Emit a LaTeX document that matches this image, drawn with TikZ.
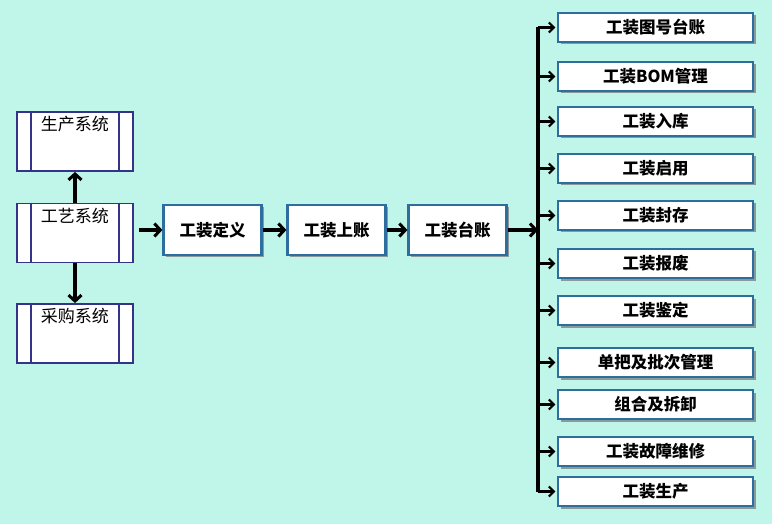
\documentclass[tikz,border=0pt]{standalone}
\usepackage{fontspec}
\newfontfamily\cjk{Noto Sans CJK SC}
\usetikzlibrary{arrows.meta,shadows,calc}
\definecolor{bg}{HTML}{C0F5EA}
\definecolor{boxblue}{HTML}{2E6E9E}
\definecolor{sysnavy}{HTML}{33338A}
\definecolor{shadowgray}{HTML}{8A9A9A}
\tikzset{
  procbox/.style={draw=boxblue, line width=2.2pt, fill=white, minimum height=29pt,
    font=\cjk\bfseries\fontsize{16.5}{18}\selectfont, inner sep=0pt,
    drop shadow={shadow xshift=2.5pt, shadow yshift=-2.5pt, fill=shadowgray, opacity=1}},
  rbox/.style={procbox, minimum width=195pt},
  mbox/.style={procbox, minimum width=98pt, minimum height=50pt},
  sysbox/.style={draw=sysnavy, line width=1.8pt, fill=white, minimum width=116pt, minimum height=59pt, inner sep=0pt},
  systext/.style={font=\cjk\fontsize{17}{18}\selectfont, inner sep=0pt, anchor=north},
  mainarrow/.style={line width=3.2pt, -{Straight Barb[length=6pt,width=13pt,line width=3pt]}},
  brarrow/.style={line width=2.3pt, -{Straight Barb[length=5pt,width=10pt,line width=2.2pt]}},
  busline/.style={line width=3.2pt}
}
\begin{document}
\begin{tikzpicture}[x=1pt,y=-1pt]
\fill[bg] (0,0) rectangle (772,524);
\useasboundingbox (0,0) rectangle (772,524);
% left system boxes
\foreach \n/\y/\t in {sp/141.5/生产系统, gy/233/工艺系统, cg/333.5/采购系统}{
  \node[sysbox] (\n) at (75,\y) {};
  \draw[sysnavy, line width=1.5pt] ($(\n.north west)+(15,0)$) -- ($(\n.south west)+(15,0)$);
  \draw[sysnavy, line width=1.5pt] ($(\n.north east)+(-15,0)$) -- ($(\n.south east)+(-15,0)$);
  \node[systext] (\n t) at ($(\n.north)+(0,5)$) {\t};
}
% middle boxes
\node[mbox] (dy) at (212.5,230) {工装定义};
\node[mbox] (sz) at (336.5,230) {工装上账};
\node[mbox] (tz) at (457.5,230) {工装台账};
% right boxes
\node[rbox] (r1) at (655.5,27.5) {工装图号台账};
\node[rbox] (r2) at (655.5,76.5) {工装BOM管理};
\node[rbox] (r3) at (655.5,121.5) {工装入库};
\node[rbox] (r4) at (655.5,168.5) {工装启用};
\node[rbox] (r5) at (655.5,215.5) {工装封存};
\node[rbox] (r6) at (655.5,263.5) {工装报废};
\node[rbox] (r7) at (655.5,310.5) {工装鉴定};
\node[rbox] (r8) at (655.5,362.5) {单把及批次管理};
\node[rbox] (r9) at (655.5,404.5) {组合及拆卸};
\node[rbox] (r10) at (655.5,451.5) {工装故障维修};
\node[rbox] (r11) at (655.5,491.5) {工装生产};
% bus
\coordinate (busx) at (538,0);
\draw[busline] (r1.west -| busx) -- (r11.west -| busx);
\foreach \i in {1,...,11}{
  \draw[brarrow] (r\i.west -| busx) -- ($(r\i.west)+(-1.5,0)$);
}
% main arrows
\coordinate (gyout) at ($(gy.east)+(5,0)$);
\draw[mainarrow] (gyout |- dy.west) -- (dy.west);
\draw[mainarrow] (dy.east) -- (sz.west);
\draw[mainarrow] (sz.east) -- (tz.west);
\draw[mainarrow] (tz.east) -- (tz.east -| busx);
\draw[mainarrow] (gy.north) -- (sp.south);
\draw[mainarrow] (gy.south) -- (cg.north);
\end{tikzpicture}
\end{document}
